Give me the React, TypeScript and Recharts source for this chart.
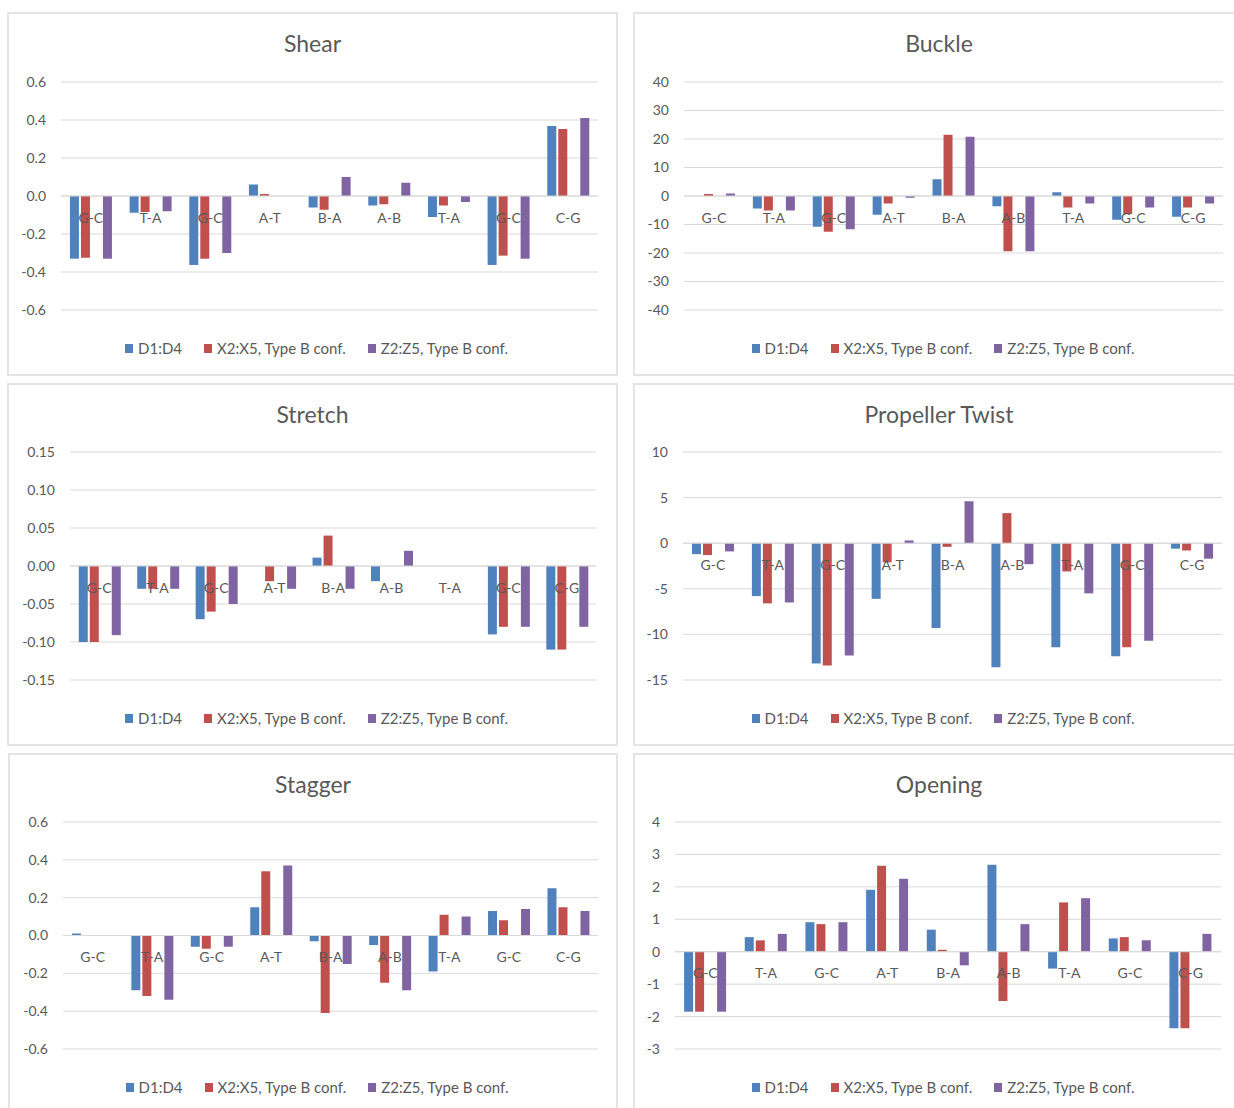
import React from 'react';
import { BarChart, Bar, XAxis, YAxis, CartesianGrid, ReferenceLine, Legend } from 'recharts';

const FONT = "Lato, 'Open Sans', sans-serif";
const TEXT = '#595959';
const GRID = '#d9d9d9';

const categories = ['G-C', 'T-A', 'G-C', 'A-T', 'B-A', 'A-B', 'T-A', 'G-C', 'C-G'];
const seriesNames = ['D1:D4', 'X2:X5, Type B conf.', 'Z2:Z5, Type B conf.'];
const seriesColors = ['#4F81BD', '#C0504D', '#8064A2'];

// Shear
const shearD = [-0.33, -0.088, -0.363, 0.06, -0.06, -0.05, -0.11, -0.363, 0.368];
const shearX = [-0.325, -0.084, -0.33, 0.01, -0.072, -0.044, -0.05, -0.314, 0.353];
const shearZ = [-0.33, -0.08, -0.3, 0, 0.1, 0.07, -0.032, -0.33, 0.41];
const shearTicks = [-0.6, -0.4, -0.2, 0, 0.2, 0.4, 0.6];

// Buckle
const buckleD = [0, -4.4, -10.8, -6.6, 5.9, -3.6, 1.3, -8.3, -7.3];
const buckleX = [0.7, -5.1, -12.5, -2.6, 21.5, -19.4, -4.0, -6.3, -4.0];
const buckleZ = [0.9, -5.1, -11.7, -0.6, 20.8, -19.4, -2.6, -4.0, -2.6];
const buckleTicks = [-40, -30, -20, -10, 0, 10, 20, 30, 40];

// Stretch
const stretchD = [-0.1, -0.03, -0.07, 0, 0.011, -0.02, 0, -0.09, -0.11];
const stretchX = [-0.1, -0.03, -0.06, -0.02, 0.04, 0, 0, -0.08, -0.11];
const stretchZ = [-0.091, -0.03, -0.05, -0.03, -0.03, 0.02, 0, -0.08, -0.08];
const stretchTicks = [-0.15, -0.1, -0.05, 0, 0.05, 0.1, 0.15];

// Propeller Twist
const propD = [-1.2, -5.8, -13.2, -6.1, -9.3, -13.6, -11.4, -12.4, -0.6];
const propX = [-1.3, -6.6, -13.4, -2.1, -0.4, 3.3, -3.1, -11.4, -0.8];
const propZ = [-0.9, -6.5, -12.3, 0.3, 4.6, -2.3, -5.5, -10.7, -1.7];
const propTicks = [-15, -10, -5, 0, 5, 10];

// Stagger
const staggerD = [0.01, -0.29, -0.06, 0.15, -0.03, -0.05, -0.19, 0.13, 0.25];
const staggerX = [0, -0.32, -0.07, 0.34, -0.41, -0.25, 0.11, 0.08, 0.15];
const staggerZ = [0, -0.34, -0.06, 0.37, -0.15, -0.29, 0.1, 0.14, 0.13];
const staggerTicks = [-0.6, -0.4, -0.2, 0, 0.2, 0.4, 0.6];

// Opening
const openD = [-1.85, 0.45, 0.91, 1.91, 0.68, 2.68, -0.52, 0.41, -2.36];
const openX = [-1.85, 0.35, 0.85, 2.65, 0.06, -1.52, 1.52, 0.45, -2.36];
const openZ = [-1.85, 0.55, 0.91, 2.25, -0.42, 0.85, 1.65, 0.35, 0.55];
const openTicks = [-3, -2, -1, 0, 1, 2, 3, 4];

const toRows = (d: number[], x: number[], z: number[]) =>
  categories.map((c, i) => ({ i, cat: c, d: d[i], x: x[i], z: z[i] }));

const CategoryLabels = (props: any) => {
  const vb = props.viewBox || {};
  const step = vb.width / categories.length;
  return (
    <g>
      {categories.map((c, i) => (
        <text
          key={i}
          x={vb.x + step * (i + 0.5)}
          y={vb.y + 21}
          textAnchor="middle"
          dominantBaseline="central"
          fill={TEXT}
          fontSize={14}
          fontFamily={FONT}
        >
          {c}
        </text>
      ))}
    </g>
  );
};

const LegendContent = (props: any) => {
  const items = (props.payload || []).filter((p: any) => p.type !== 'none' && seriesNames.includes(p.value));
  return (
    <div
      style={{
        height: 48,
        boxSizing: 'border-box',
        paddingTop: 28,
        paddingLeft: 8,
        display: 'flex',
        justifyContent: 'center',
        fontFamily: FONT,
        fontSize: 15,
        lineHeight: '20px',
        color: TEXT,
      }}
    >
      {items.map((p: any, k: number) => (
        <span
          key={k}
          style={{ display: 'flex', alignItems: 'center', marginRight: k < items.length - 1 ? 22 : 0 }}
        >
          <span style={{ width: 8, height: 9, background: p.color, marginRight: 5 }} />
          {p.value}
        </span>
      ))}
    </div>
  );
};

interface PanelProps {
  title: string;
  left: number;
  top: number;
  width: number;
  height: number;
  plotLeft: number;
  plotRight: number;
  plotTop: number;
  plotBottom: number;
  ticks: number[];
  decimals: number;
  d: number[];
  x: number[];
  z: number[];
}

function Panel(p: PanelProps) {
  const data = toRows(p.d, p.x, p.z);
  const domain = [p.ticks[0], p.ticks[p.ticks.length - 1]];
  return (
    <div
      style={{
        position: 'absolute',
        left: p.left,
        top: p.top,
        width: p.width,
        height: p.height,
        border: '2px solid #e4e4e4',
        boxSizing: 'border-box',
        background: '#fff',
      }}
    >
      <div
        style={{
          position: 'absolute',
          top: 16,
          left: 0,
          width: '100%',
          textAlign: 'center',
          fontFamily: FONT,
          fontSize: 23,
          lineHeight: '26px',
          color: TEXT,
        }}
      >
        {p.title}
      </div>
      <div style={{ position: 'absolute', left: -2, top: -2 }}>
        <BarChart
          width={p.width}
          height={p.height}
          data={data}
          margin={{ top: p.plotTop, right: p.plotRight, bottom: p.height - p.plotBottom - 48, left: 0 }}
          barCategoryGap="15%"
          barGap={2}
        >
          <CartesianGrid horizontal vertical={false} stroke={GRID} />
          <XAxis dataKey="i" hide />
          <YAxis
            width={p.plotLeft}
            domain={domain}
            ticks={p.ticks}
            allowDataOverflow
            axisLine={false}
            tickLine={false}
            tickSize={0}
            tickMargin={15}
            tick={{ fill: TEXT, fontSize: 14, fontFamily: FONT }}
            tickFormatter={(v: number) => v.toFixed(p.decimals)}
          />
          <Bar dataKey="d" name={seriesNames[0]} fill={seriesColors[0]} isAnimationActive={false} />
          <Bar dataKey="x" name={seriesNames[1]} fill={seriesColors[1]} isAnimationActive={false} />
          <Bar dataKey="gap" legendType="none" fill="none" isAnimationActive={false} />
          <Bar dataKey="z" name={seriesNames[2]} fill={seriesColors[2]} isAnimationActive={false} />
          <ReferenceLine y={0} stroke={GRID} label={(lp: any) => <CategoryLabels {...lp} />} />
          <Legend
            verticalAlign="bottom"
            content={LegendContent}
            wrapperStyle={{ left: 0, width: p.width }}
          />
        </BarChart>
      </div>
    </div>
  );
}

export default function App() {
  return (
    <div
      style={{
        position: 'absolute',
        left: 0,
        top: 0,
        width: 1234,
        height: 1108,
        overflow: 'hidden',
        background: '#fff',
      }}
    >
      <Panel title="Shear" left={7} top={12} width={611} height={364}
        plotLeft={54} plotRight={20} plotTop={70} plotBottom={298}
        ticks={shearTicks} decimals={1} d={shearD} x={shearX} z={shearZ} />
      <Panel title="Buckle" left={633} top={12} width={612} height={364}
        plotLeft={51} plotRight={22} plotTop={70} plotBottom={298}
        ticks={buckleTicks} decimals={0} d={buckleD} x={buckleX} z={buckleZ} />
      <Panel title="Stretch" left={7} top={383} width={611} height={363}
        plotLeft={63} plotRight={22} plotTop={69} plotBottom={297}
        ticks={stretchTicks} decimals={2} d={stretchD} x={stretchX} z={stretchZ} />
      <Panel title="Propeller Twist" left={633} top={383} width={612} height={363}
        plotLeft={50} plotRight={23} plotTop={69} plotBottom={297}
        ticks={propTicks} decimals={0} d={propD} x={propX} z={propZ} />
      <Panel title="Stagger" left={8} top={753} width={610} height={362}
        plotLeft={55} plotRight={20} plotTop={69} plotBottom={296}
        ticks={staggerTicks} decimals={1} d={staggerD} x={staggerX} z={staggerZ} />
      <Panel title="Opening" left={633} top={753} width={612} height={362}
        plotLeft={42} plotRight={24} plotTop={69} plotBottom={296}
        ticks={openTicks} decimals={0} d={openD} x={openX} z={openZ} />
    </div>
  );
}
